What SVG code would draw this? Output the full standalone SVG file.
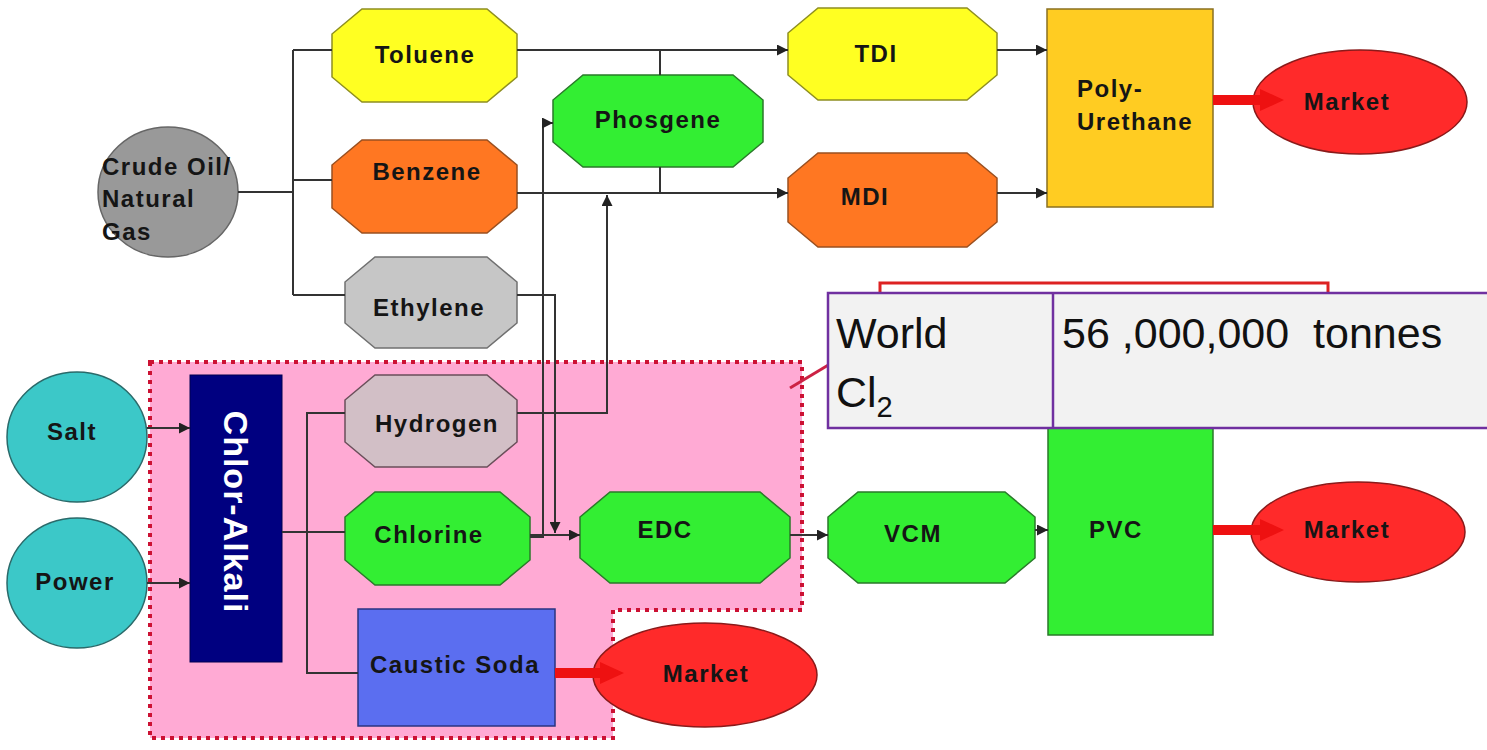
<svg xmlns="http://www.w3.org/2000/svg" width="1487" height="750" viewBox="0 0 1487 750">
<style>
.lbl{font-family:"Liberation Sans",Arial,sans-serif;font-weight:bold;font-size:24px;letter-spacing:1.5px;fill:#151515;text-anchor:middle}
.lbll{font-family:"Liberation Sans",Arial,sans-serif;font-weight:bold;font-size:24px;letter-spacing:1.5px;fill:#151515}
.ln{fill:none;stroke:#333;stroke-width:2}
.arr{fill:none;stroke:#333;stroke-width:2;marker-end:url(#ah)}
.tbl{font-family:"Liberation Sans",Arial,sans-serif;font-size:43px;fill:#111}
.yel{fill:#ffff22;stroke:#8f8f20;stroke-width:1.5}
.org{fill:#ff7722;stroke:#9a5020;stroke-width:1.5}
.gry{fill:#c6c6c6;stroke:#707070;stroke-width:1.5}
.hyd{fill:#d2bfc6;stroke:#6a4f5a;stroke-width:1.5}
.grn{fill:#33ee33;stroke:#2a7a2a;stroke-width:1.5}
.mkt{fill:#ff2a2a;stroke:#8a1a1a;stroke-width:1.5}
.red{fill:#ee1111}
.cir{fill:#3cc8c8;stroke:#2a6a6a;stroke-width:1.5}
</style>
<defs>
<marker id="ah" viewBox="0 0 10 10" refX="10" refY="5" markerWidth="11" markerHeight="11" markerUnits="userSpaceOnUse" orient="auto">
<path d="M0,0 L10,5 L0,10 z" fill="#222"/>
</marker>
</defs>
<rect width="1487" height="750" fill="#ffffff"/>

<g id="region">
<path d="M150,362 H802 V610 H613 V738 H150 Z" fill="#ffaad4" stroke="#cc1133" stroke-width="4" stroke-dasharray="4,5"/>
</g>

<g id="crude">
<ellipse cx="168" cy="192" rx="70" ry="65" fill="#999999" stroke="#666" stroke-width="1.5"/>
<text class="lbll" x="102" y="175">Crude Oil/</text>
<text class="lbll" x="102" y="207">Natural</text>
<text class="lbll" x="102" y="240">Gas</text>
</g>

<g id="toluene">
<path class="yel" d="M362,9 H487 L517,34 V77 L487,102 H362 L332,77 V34 Z"/>
<text class="lbl" x="425" y="63">Toluene</text>
</g>
<g id="benzene">
<path class="org" d="M362,140 H487 L517,165 V208 L487,233 H362 L332,208 V165 Z"/>
<text class="lbl" x="427" y="180">Benzene</text>
</g>
<g id="ethylene">
<path class="gry" d="M375,257 H487 L517,282 V323 L487,348 H375 L345,323 V282 Z"/>
<text class="lbl" x="429" y="316">Ethylene</text>
</g>
<g id="phosgene">
<path class="grn" d="M583,75 H733 L763,100 V142 L733,167 H583 L553,142 V100 Z"/>
<text class="lbl" x="658" y="128">Phosgene</text>
</g>
<g id="tdi">
<path class="yel" d="M818,8 H967 L997,33 V75 L967,100 H818 L788,75 V33 Z"/>
<text class="lbl" x="876" y="62">TDI</text>
</g>
<g id="mdi">
<path class="org" d="M818,153 H967 L997,178 V222 L967,247 H818 L788,222 V178 Z"/>
<text class="lbl" x="865" y="205">MDI</text>
</g>
<g id="polyurethane">
<rect x="1047" y="9" width="166" height="198" fill="#ffcc22" stroke="#8a7020" stroke-width="1.5"/>
<text class="lbll" x="1077" y="97">Poly-</text>
<text class="lbll" x="1077" y="130">Urethane</text>
</g>
<g id="market1">
<ellipse class="mkt" cx="1360" cy="102" rx="107" ry="52"/>
<text class="lbl" x="1347" y="110">Market</text>
</g>

<g id="salt">
<ellipse class="cir" cx="77" cy="437" rx="70" ry="65"/>
<text class="lbl" x="72" y="440">Salt</text>
</g>
<g id="power">
<ellipse class="cir" cx="77" cy="583" rx="70" ry="65"/>
<text class="lbl" x="75" y="590">Power</text>
</g>
<g id="chloralkali">
<rect x="190" y="375" width="92" height="287" fill="#000080" stroke="#000050" stroke-width="1"/>
<text transform="translate(224,512) rotate(90)" x="0" y="0" text-anchor="middle" font-family="Liberation Sans, Arial, sans-serif" font-weight="bold" font-size="34" letter-spacing="1" fill="#ffffff">Chlor-Alkali</text>
</g>
<g id="hydrogen">
<path class="hyd" d="M375,375 H487 L517,400 V442 L487,467 H375 L345,442 V400 Z"/>
<text class="lbl" x="437" y="432">Hydrogen</text>
</g>
<g id="chlorine">
<path class="grn" d="M375,492 H500 L530,517 V560 L500,585 H375 L345,560 V517 Z"/>
<text class="lbl" x="429" y="543">Chlorine</text>
</g>
<g id="causticsoda">
<rect x="358" y="609" width="197" height="117" fill="#5b6ef0" stroke="#2a3580" stroke-width="1.5"/>
<text class="lbl" x="455" y="673">Caustic Soda</text>
</g>
<g id="market3">
<ellipse class="mkt" cx="705" cy="675" rx="112" ry="52"/>
<text class="lbl" x="706" y="682">Market</text>
</g>
<g id="edc">
<path class="grn" d="M610,492 H760 L790,517 V558 L760,583 H610 L580,558 V517 Z"/>
<text class="lbl" x="665" y="538">EDC</text>
</g>
<g id="vcm">
<path class="grn" d="M858,492 H1005 L1035,517 V558 L1005,583 H858 L828,558 V517 Z"/>
<text class="lbl" x="913" y="542">VCM</text>
</g>
<g id="pvc">
<rect x="1048" y="400" width="165" height="235" fill="#33ee33" stroke="#2a7a2a" stroke-width="1.5"/>
<text class="lbl" x="1116" y="538">PVC</text>
</g>
<g id="market2">
<ellipse class="mkt" cx="1358" cy="532" rx="107" ry="50"/>
<text class="lbl" x="1347" y="538">Market</text>
</g>

<g id="connectors">
<path class="ln" d="M238,192 H293"/>
<path class="ln" d="M293,50 V295"/>
<path class="ln" d="M293,50 H332"/>
<path class="ln" d="M293,180 H332"/>
<path class="ln" d="M293,295 H345"/>
<path class="arr" d="M517,50 H788"/>
<path class="arr" d="M517,193 H788"/>
<path class="ln" d="M660,50 V75"/>
<path class="ln" d="M660,167 V193"/>
<path class="arr" d="M997,50 H1047"/>
<path class="arr" d="M997,193 H1047"/>
<path class="arr" d="M530,537 H543 V123 H553"/>
<path class="arr" d="M517,295 H555 V533"/>
<path class="arr" d="M517,413 H607 V195"/>
<path class="arr" d="M530,535 H580"/>
<path class="arr" d="M790,535 H828"/>
<path class="arr" d="M1035,530 H1048"/>
<path class="arr" d="M147,428 H190"/>
<path class="arr" d="M147,583 H190"/>
<path class="ln" d="M282,532 H345"/>
<path class="ln" d="M345,413 H307 V673 H358"/>
<path class="red" d="M1213,95 H1260 V89 L1284,100 L1260,111 V105 H1213 Z"/>
<path class="red" d="M1213,525 H1260 V519 L1284,530 L1260,541 V535 H1213 Z"/>
<path class="red" d="M555,668 H600 V662 L624,673 L600,684 V678 H555 Z"/>
</g>

<g id="callout">
<rect x="880" y="283" width="448" height="60" fill="none" stroke="#dd2222" stroke-width="3"/>
<line x1="790" y1="388" x2="830" y2="364" stroke="#cc2244" stroke-width="3"/>
<rect x="828" y="293" width="670" height="135" fill="#f2f2f2" stroke="#7030a0" stroke-width="2.5"/>
<line x1="1053" y1="293" x2="1053" y2="428" stroke="#7030a0" stroke-width="2.5"/>
<text class="tbl" x="836" y="348">World</text>
<text class="tbl" x="836" y="407">Cl<tspan font-size="29" dy="10">2</tspan></text>
<text class="tbl" x="1062" y="348" xml:space="preserve">56 ,000,000  tonnes</text>
</g>
</svg>
